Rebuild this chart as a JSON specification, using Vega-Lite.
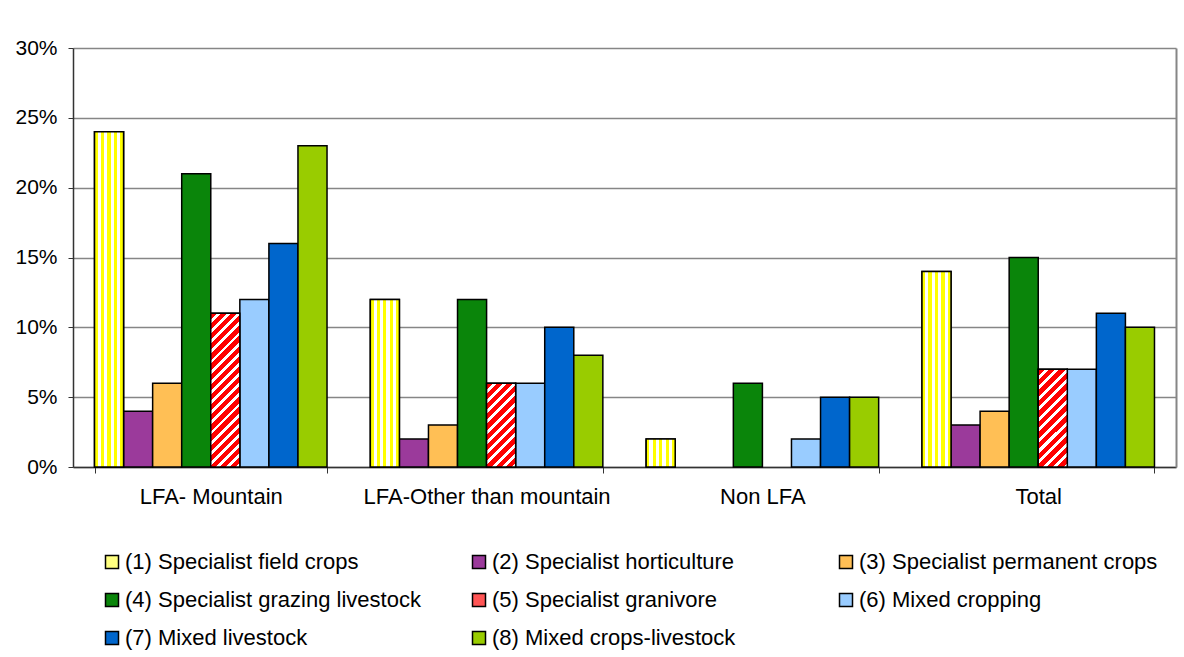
{
  "$schema": "https://vega.github.io/schema/vega-lite/v6.json",
  "width": 1103,
  "height": 419,
  "autosize": {"type": "none"},
  "padding": {"left": 73, "top": 48, "right": 8, "bottom": 190},
  "background": "white",
  "config": {
    "font": "Liberation Sans",
    "view": {"stroke": null}
  },
  "data": {
    "values": [
      {"region": "LFA- Mountain", "series": "(1) Specialist field crops", "value": 0.24},
      {"region": "LFA- Mountain", "series": "(2) Specialist horticulture", "value": 0.04},
      {"region": "LFA- Mountain", "series": "(3) Specialist permanent crops", "value": 0.06},
      {"region": "LFA- Mountain", "series": "(4) Specialist grazing livestock", "value": 0.21},
      {"region": "LFA- Mountain", "series": "(5) Specialist granivore", "value": 0.11},
      {"region": "LFA- Mountain", "series": "(6) Mixed cropping", "value": 0.12},
      {"region": "LFA- Mountain", "series": "(7) Mixed livestock", "value": 0.16},
      {"region": "LFA- Mountain", "series": "(8) Mixed crops-livestock", "value": 0.23},
      {"region": "LFA-Other than mountain", "series": "(1) Specialist field crops", "value": 0.12},
      {"region": "LFA-Other than mountain", "series": "(2) Specialist horticulture", "value": 0.02},
      {"region": "LFA-Other than mountain", "series": "(3) Specialist permanent crops", "value": 0.03},
      {"region": "LFA-Other than mountain", "series": "(4) Specialist grazing livestock", "value": 0.12},
      {"region": "LFA-Other than mountain", "series": "(5) Specialist granivore", "value": 0.06},
      {"region": "LFA-Other than mountain", "series": "(6) Mixed cropping", "value": 0.06},
      {"region": "LFA-Other than mountain", "series": "(7) Mixed livestock", "value": 0.10},
      {"region": "LFA-Other than mountain", "series": "(8) Mixed crops-livestock", "value": 0.08},
      {"region": "Non LFA", "series": "(1) Specialist field crops", "value": 0.02},
      {"region": "Non LFA", "series": "(2) Specialist horticulture", "value": 0.0},
      {"region": "Non LFA", "series": "(3) Specialist permanent crops", "value": 0.0},
      {"region": "Non LFA", "series": "(4) Specialist grazing livestock", "value": 0.06},
      {"region": "Non LFA", "series": "(5) Specialist granivore", "value": 0.0},
      {"region": "Non LFA", "series": "(6) Mixed cropping", "value": 0.02},
      {"region": "Non LFA", "series": "(7) Mixed livestock", "value": 0.05},
      {"region": "Non LFA", "series": "(8) Mixed crops-livestock", "value": 0.05},
      {"region": "Total", "series": "(1) Specialist field crops", "value": 0.14},
      {"region": "Total", "series": "(2) Specialist horticulture", "value": 0.03},
      {"region": "Total", "series": "(3) Specialist permanent crops", "value": 0.04},
      {"region": "Total", "series": "(4) Specialist grazing livestock", "value": 0.15},
      {"region": "Total", "series": "(5) Specialist granivore", "value": 0.07},
      {"region": "Total", "series": "(6) Mixed cropping", "value": 0.07},
      {"region": "Total", "series": "(7) Mixed livestock", "value": 0.11},
      {"region": "Total", "series": "(8) Mixed crops-livestock", "value": 0.10}
    ]
  },
  "layer": [
    {
      "transform": [{"filter": "datum.value > 0"}],
      "mark": {"type": "bar", "stroke": "black", "strokeWidth": 1.5},
      "encoding": {
        "x": {
          "field": "region", "type": "nominal", "sort": null,
          "scale": {"paddingInner": 0.157, "paddingOuter": 0.078},
          "axis": {"title": null, "labelAngle": 0, "tickBand": "extent", "tickSize": 6, "labelPadding": 13, "labelFontSize": 22, "labelLimit": 400, "labelColor": "black", "domainColor": "#333333", "domainWidth": 1.5, "tickColor": "#333333", "tickWidth": 1, "grid": false}
        },
        "xOffset": {
          "field": "series", "type": "nominal",
          "scale": {"domain": ["(1) Specialist field crops", "(2) Specialist horticulture", "(3) Specialist permanent crops", "(4) Specialist grazing livestock", "(5) Specialist granivore", "(6) Mixed cropping", "(7) Mixed livestock", "(8) Mixed crops-livestock"], "paddingInner": 0, "paddingOuter": 0}
        },
        "y": {
          "field": "value", "type": "quantitative",
          "scale": {"domain": [0, 0.3], "nice": false},
          "axis": {"title": null, "values": [0, 0.05, 0.1, 0.15, 0.2, 0.25, 0.3], "format": ".0%", "grid": true, "gridColor": "#868686", "gridWidth": 1.5, "tickSize": 5, "labelPadding": 11, "labelFontSize": 21, "labelColor": "black", "domainColor": "#333333", "domainWidth": 1.5, "tickColor": "#333333"}
        },
        "color": {
          "field": "series", "type": "nominal",
          "scale": {
            "domain": ["(1) Specialist field crops", "(2) Specialist horticulture", "(3) Specialist permanent crops", "(4) Specialist grazing livestock", "(5) Specialist granivore", "(6) Mixed cropping", "(7) Mixed livestock", "(8) Mixed crops-livestock"],
            "range": ["#FFFF80", "#9B3A9B", "#FFBF55", "#0A850A", "#FF5555", "#99CCFF", "#0066CC", "#99CC00"]
          },
          "legend": {"title": null, "orient": "none", "legendX": 28, "legendY": 503, "direction": "horizontal", "columns": 3, "gridAlign": "all", "columnPadding": 44, "rowPadding": 16, "symbolType": "square", "symbolSize": 169, "symbolStrokeColor": "black", "symbolStrokeWidth": 1.5, "symbolOpacity": 1, "labelFontSize": 22, "labelColor": "black", "labelOffset": 2, "labelLimit": 400, "padding": 0}
        }
      }
    },
    {
      "transform": [{"filter": "datum.value > 0 && (datum.series === '(1) Specialist field crops' || datum.series === '(5) Specialist granivore')"}],
      "mark": {"type": "bar", "stroke": "black", "strokeWidth": 1.5},
      "encoding": {
        "x": {"field": "region", "type": "nominal", "sort": null},
        "xOffset": {
          "field": "series", "type": "nominal",
          "scale": {"domain": ["(1) Specialist field crops", "(2) Specialist horticulture", "(3) Specialist permanent crops", "(4) Specialist grazing livestock", "(5) Specialist granivore", "(6) Mixed cropping", "(7) Mixed livestock", "(8) Mixed crops-livestock"]}
        },
        "y": {
          "field": "value", "type": "quantitative",
          "axis": {"orient": "right", "title": null, "labels": false, "ticks": false, "grid": false, "domainColor": "#868686", "domainWidth": 2}
        },
        "fill": {
          "condition": [
            {
              "test": "datum.series === '(1) Specialist field crops'",
              "value": {"gradient": "linear", "x1": 0, "y1": 0, "x2": 1, "y2": 0, "stops": [
                {"offset": 0, "color": "#FFFF00"}, {"offset": 0.111, "color": "#FFFF00"}, {"offset": 0.111, "color": "#FFFFFF"}, {"offset": 0.222, "color": "#FFFFFF"},
                {"offset": 0.222, "color": "#FFFF00"}, {"offset": 0.333, "color": "#FFFF00"}, {"offset": 0.333, "color": "#FFFFFF"}, {"offset": 0.444, "color": "#FFFFFF"},
                {"offset": 0.444, "color": "#FFFF00"}, {"offset": 0.556, "color": "#FFFF00"}, {"offset": 0.556, "color": "#FFFFFF"}, {"offset": 0.667, "color": "#FFFFFF"},
                {"offset": 0.667, "color": "#FFFF00"}, {"offset": 0.778, "color": "#FFFF00"}, {"offset": 0.778, "color": "#FFFFFF"}, {"offset": 0.889, "color": "#FFFFFF"},
                {"offset": 0.889, "color": "#FFFF00"}, {"offset": 1, "color": "#FFFF00"}
              ]}
            },
            {
              "test": "datum.region === 'LFA- Mountain'",
              "value": {"gradient": "linear", "x1": 0, "y1": 0, "x2": 0.2172, "y2": 1.1481, "stops": [
                {"offset": 0, "color": "#FF0000"}, {"offset": 0.0344, "color": "#FF0000"}, {"offset": 0.0344, "color": "#FFFFFF"}, {"offset": 0.0556, "color": "#FFFFFF"},
                {"offset": 0.0556, "color": "#FF0000"}, {"offset": 0.0900, "color": "#FF0000"}, {"offset": 0.0900, "color": "#FFFFFF"}, {"offset": 0.1111, "color": "#FFFFFF"},
                {"offset": 0.1111, "color": "#FF0000"}, {"offset": 0.1456, "color": "#FF0000"}, {"offset": 0.1456, "color": "#FFFFFF"}, {"offset": 0.1667, "color": "#FFFFFF"},
                {"offset": 0.1667, "color": "#FF0000"}, {"offset": 0.2011, "color": "#FF0000"}, {"offset": 0.2011, "color": "#FFFFFF"}, {"offset": 0.2222, "color": "#FFFFFF"},
                {"offset": 0.2222, "color": "#FF0000"}, {"offset": 0.2567, "color": "#FF0000"}, {"offset": 0.2567, "color": "#FFFFFF"}, {"offset": 0.2778, "color": "#FFFFFF"},
                {"offset": 0.2778, "color": "#FF0000"}, {"offset": 0.3122, "color": "#FF0000"}, {"offset": 0.3122, "color": "#FFFFFF"}, {"offset": 0.3333, "color": "#FFFFFF"},
                {"offset": 0.3333, "color": "#FF0000"}, {"offset": 0.3678, "color": "#FF0000"}, {"offset": 0.3678, "color": "#FFFFFF"}, {"offset": 0.3889, "color": "#FFFFFF"},
                {"offset": 0.3889, "color": "#FF0000"}, {"offset": 0.4233, "color": "#FF0000"}, {"offset": 0.4233, "color": "#FFFFFF"}, {"offset": 0.4444, "color": "#FFFFFF"},
                {"offset": 0.4444, "color": "#FF0000"}, {"offset": 0.4789, "color": "#FF0000"}, {"offset": 0.4789, "color": "#FFFFFF"}, {"offset": 0.5000, "color": "#FFFFFF"},
                {"offset": 0.5000, "color": "#FF0000"}, {"offset": 0.5344, "color": "#FF0000"}, {"offset": 0.5344, "color": "#FFFFFF"}, {"offset": 0.5556, "color": "#FFFFFF"},
                {"offset": 0.5556, "color": "#FF0000"}, {"offset": 0.5900, "color": "#FF0000"}, {"offset": 0.5900, "color": "#FFFFFF"}, {"offset": 0.6111, "color": "#FFFFFF"},
                {"offset": 0.6111, "color": "#FF0000"}, {"offset": 0.6456, "color": "#FF0000"}, {"offset": 0.6456, "color": "#FFFFFF"}, {"offset": 0.6667, "color": "#FFFFFF"},
                {"offset": 0.6667, "color": "#FF0000"}, {"offset": 0.7011, "color": "#FF0000"}, {"offset": 0.7011, "color": "#FFFFFF"}, {"offset": 0.7222, "color": "#FFFFFF"},
                {"offset": 0.7222, "color": "#FF0000"}, {"offset": 0.7567, "color": "#FF0000"}, {"offset": 0.7567, "color": "#FFFFFF"}, {"offset": 0.7778, "color": "#FFFFFF"},
                {"offset": 0.7778, "color": "#FF0000"}, {"offset": 0.8122, "color": "#FF0000"}, {"offset": 0.8122, "color": "#FFFFFF"}, {"offset": 0.8333, "color": "#FFFFFF"},
                {"offset": 0.8333, "color": "#FF0000"}, {"offset": 0.8678, "color": "#FF0000"}, {"offset": 0.8678, "color": "#FFFFFF"}, {"offset": 0.8889, "color": "#FFFFFF"},
                {"offset": 0.8889, "color": "#FF0000"}, {"offset": 0.9233, "color": "#FF0000"}, {"offset": 0.9233, "color": "#FFFFFF"}, {"offset": 0.9444, "color": "#FFFFFF"},
                {"offset": 0.9444, "color": "#FF0000"}, {"offset": 0.9789, "color": "#FF0000"}, {"offset": 0.9789, "color": "#FFFFFF"}, {"offset": 1, "color": "#FFFFFF"}
              ]}
            },
            {
              "test": "datum.region === 'LFA-Other than mountain'",
              "value": {"gradient": "linear", "x1": 0, "y1": 0, "x2": 0.4169, "y2": 1.2022, "stops": [
                {"offset": 0, "color": "#FF0000"}, {"offset": 0.0564, "color": "#FF0000"}, {"offset": 0.0564, "color": "#FFFFFF"}, {"offset": 0.0909, "color": "#FFFFFF"},
                {"offset": 0.0909, "color": "#FF0000"}, {"offset": 0.1473, "color": "#FF0000"}, {"offset": 0.1473, "color": "#FFFFFF"}, {"offset": 0.1818, "color": "#FFFFFF"},
                {"offset": 0.1818, "color": "#FF0000"}, {"offset": 0.2382, "color": "#FF0000"}, {"offset": 0.2382, "color": "#FFFFFF"}, {"offset": 0.2727, "color": "#FFFFFF"},
                {"offset": 0.2727, "color": "#FF0000"}, {"offset": 0.3291, "color": "#FF0000"}, {"offset": 0.3291, "color": "#FFFFFF"}, {"offset": 0.3636, "color": "#FFFFFF"},
                {"offset": 0.3636, "color": "#FF0000"}, {"offset": 0.4200, "color": "#FF0000"}, {"offset": 0.4200, "color": "#FFFFFF"}, {"offset": 0.4545, "color": "#FFFFFF"},
                {"offset": 0.4545, "color": "#FF0000"}, {"offset": 0.5109, "color": "#FF0000"}, {"offset": 0.5109, "color": "#FFFFFF"}, {"offset": 0.5455, "color": "#FFFFFF"},
                {"offset": 0.5455, "color": "#FF0000"}, {"offset": 0.6018, "color": "#FF0000"}, {"offset": 0.6018, "color": "#FFFFFF"}, {"offset": 0.6364, "color": "#FFFFFF"},
                {"offset": 0.6364, "color": "#FF0000"}, {"offset": 0.6927, "color": "#FF0000"}, {"offset": 0.6927, "color": "#FFFFFF"}, {"offset": 0.7273, "color": "#FFFFFF"},
                {"offset": 0.7273, "color": "#FF0000"}, {"offset": 0.7836, "color": "#FF0000"}, {"offset": 0.7836, "color": "#FFFFFF"}, {"offset": 0.8182, "color": "#FFFFFF"},
                {"offset": 0.8182, "color": "#FF0000"}, {"offset": 0.8745, "color": "#FF0000"}, {"offset": 0.8745, "color": "#FFFFFF"}, {"offset": 0.9091, "color": "#FFFFFF"},
                {"offset": 0.9091, "color": "#FF0000"}, {"offset": 0.9655, "color": "#FF0000"}, {"offset": 0.9655, "color": "#FFFFFF"}, {"offset": 1, "color": "#FFFFFF"}
              ]}
            }
          ],
          "value": {"gradient": "linear", "x1": 0, "y1": 0, "x2": 0.3541, "y2": 1.1919, "stops": [
            {"offset": 0, "color": "#FF0000"}, {"offset": 0.0517, "color": "#FF0000"}, {"offset": 0.0517, "color": "#FFFFFF"}, {"offset": 0.0833, "color": "#FFFFFF"},
            {"offset": 0.0833, "color": "#FF0000"}, {"offset": 0.1350, "color": "#FF0000"}, {"offset": 0.1350, "color": "#FFFFFF"}, {"offset": 0.1667, "color": "#FFFFFF"},
            {"offset": 0.1667, "color": "#FF0000"}, {"offset": 0.2183, "color": "#FF0000"}, {"offset": 0.2183, "color": "#FFFFFF"}, {"offset": 0.2500, "color": "#FFFFFF"},
            {"offset": 0.2500, "color": "#FF0000"}, {"offset": 0.3017, "color": "#FF0000"}, {"offset": 0.3017, "color": "#FFFFFF"}, {"offset": 0.3333, "color": "#FFFFFF"},
            {"offset": 0.3333, "color": "#FF0000"}, {"offset": 0.3850, "color": "#FF0000"}, {"offset": 0.3850, "color": "#FFFFFF"}, {"offset": 0.4167, "color": "#FFFFFF"},
            {"offset": 0.4167, "color": "#FF0000"}, {"offset": 0.4683, "color": "#FF0000"}, {"offset": 0.4683, "color": "#FFFFFF"}, {"offset": 0.5000, "color": "#FFFFFF"},
            {"offset": 0.5000, "color": "#FF0000"}, {"offset": 0.5517, "color": "#FF0000"}, {"offset": 0.5517, "color": "#FFFFFF"}, {"offset": 0.5833, "color": "#FFFFFF"},
            {"offset": 0.5833, "color": "#FF0000"}, {"offset": 0.6350, "color": "#FF0000"}, {"offset": 0.6350, "color": "#FFFFFF"}, {"offset": 0.6667, "color": "#FFFFFF"},
            {"offset": 0.6667, "color": "#FF0000"}, {"offset": 0.7183, "color": "#FF0000"}, {"offset": 0.7183, "color": "#FFFFFF"}, {"offset": 0.7500, "color": "#FFFFFF"},
            {"offset": 0.7500, "color": "#FF0000"}, {"offset": 0.8017, "color": "#FF0000"}, {"offset": 0.8017, "color": "#FFFFFF"}, {"offset": 0.8333, "color": "#FFFFFF"},
            {"offset": 0.8333, "color": "#FF0000"}, {"offset": 0.8850, "color": "#FF0000"}, {"offset": 0.8850, "color": "#FFFFFF"}, {"offset": 0.9167, "color": "#FFFFFF"},
            {"offset": 0.9167, "color": "#FF0000"}, {"offset": 0.9683, "color": "#FF0000"}, {"offset": 0.9683, "color": "#FFFFFF"}, {"offset": 1, "color": "#FFFFFF"}
          ]}
        }
      }
    }
  ],
  "resolve": {"axis": {"y": "independent"}}
}
